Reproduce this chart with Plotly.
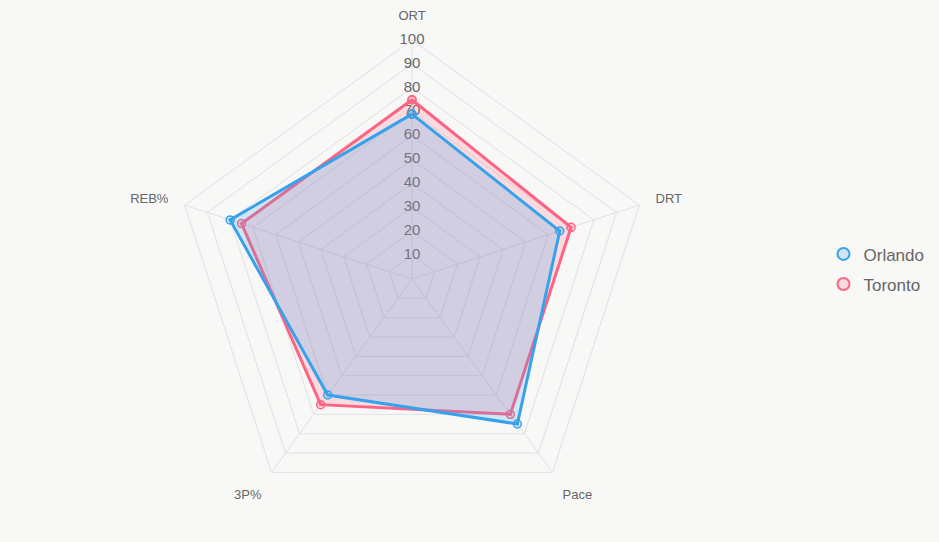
import plotly.graph_objects as go

categories = ["ORT", "DRT", "Pace", "3P%", "REB%"]
orlando = [69, 65, 75, 60, 80]
toronto = [75, 70, 70, 65, 75]
tick_vals = [10, 20, 30, 40, 50, 60, 70, 80, 90, 100]

blue = "rgb(54,162,235)"
blue_fill = "rgba(54,162,235,0.2)"
pink = "rgb(255,99,132)"
pink_fill = "rgba(255,99,132,0.2)"
font_family = "Liberation Sans, Arial, sans-serif"

fig = go.Figure()

# radial tick labels (drawn under data)
fig.add_trace(go.Scatterpolar(
    r=tick_vals, theta=[categories[0]] * len(tick_vals),
    mode="text", text=[str(v) for v in tick_vals],
    textfont=dict(size=15, color="#666666", family=font_family),
    showlegend=False, hoverinfo="skip"))

def closed(v):
    return list(v) + [v[0]]

# Toronto drawn first so Orlando sits on top (as in the reference)
for name, vals, col, fillc in [("Toronto", toronto, pink, pink_fill),
                               ("Orlando", orlando, blue, blue_fill)]:
    fig.add_trace(go.Scatterpolar(
        r=closed(vals), theta=closed(categories), name=name,
        mode="lines+markers", fill="toself", fillcolor=fillc,
        line=dict(color=col, width=3),
        marker=dict(size=8, color=fillc, line=dict(color=col, width=1.5)),
        showlegend=False))

for i, (name, col, fillc) in enumerate([("Orlando", blue, blue_fill),
                                        ("Toronto", pink, pink_fill)]):
    fig.add_trace(go.Scatterpolar(
        r=[None], theta=[categories[0]], name=name, mode="markers",
        legendgroup="g%d" % i, legendrank=i + 1,
        marker=dict(size=15, color=fillc, line=dict(color=col, width=1.5)),
        showlegend=True))

fig.update_layout(
    width=939, height=542,
    paper_bgcolor="#f8f8f7", plot_bgcolor="#f8f8f7",
    margin=dict(l=0, r=0, t=0, b=0),
    font=dict(family=font_family, color="#666666"),
    polar=dict(
        bgcolor="rgba(0,0,0,0)",
        domain=dict(x=[0.1842, 0.6933], y=[0.0443, 0.9262]),
        gridshape="linear",
        radialaxis=dict(range=[0, 100], dtick=10, showticklabels=False,
                        ticks="", showline=False, gridcolor="#e0e0e0",
                        gridwidth=1),
        angularaxis=dict(rotation=90, direction="clockwise",
                         categoryarray=categories, categoryorder="array",
                         gridcolor="#e0e0e0", linecolor="#e0e0e0",
                         ticks="outside", ticklen=14,
                         tickcolor="rgba(0,0,0,0)",
                         tickfont=dict(size=13, color="#666666"),
                         showline=True),
    ),
    legend=dict(x=0.877, y=0.503, yanchor="middle", xanchor="left",
                font=dict(size=17, color="#666666"), itemsizing="constant",
                tracegroupgap=5, bgcolor="rgba(0,0,0,0)"),
)

fig.write_html("out.html")
